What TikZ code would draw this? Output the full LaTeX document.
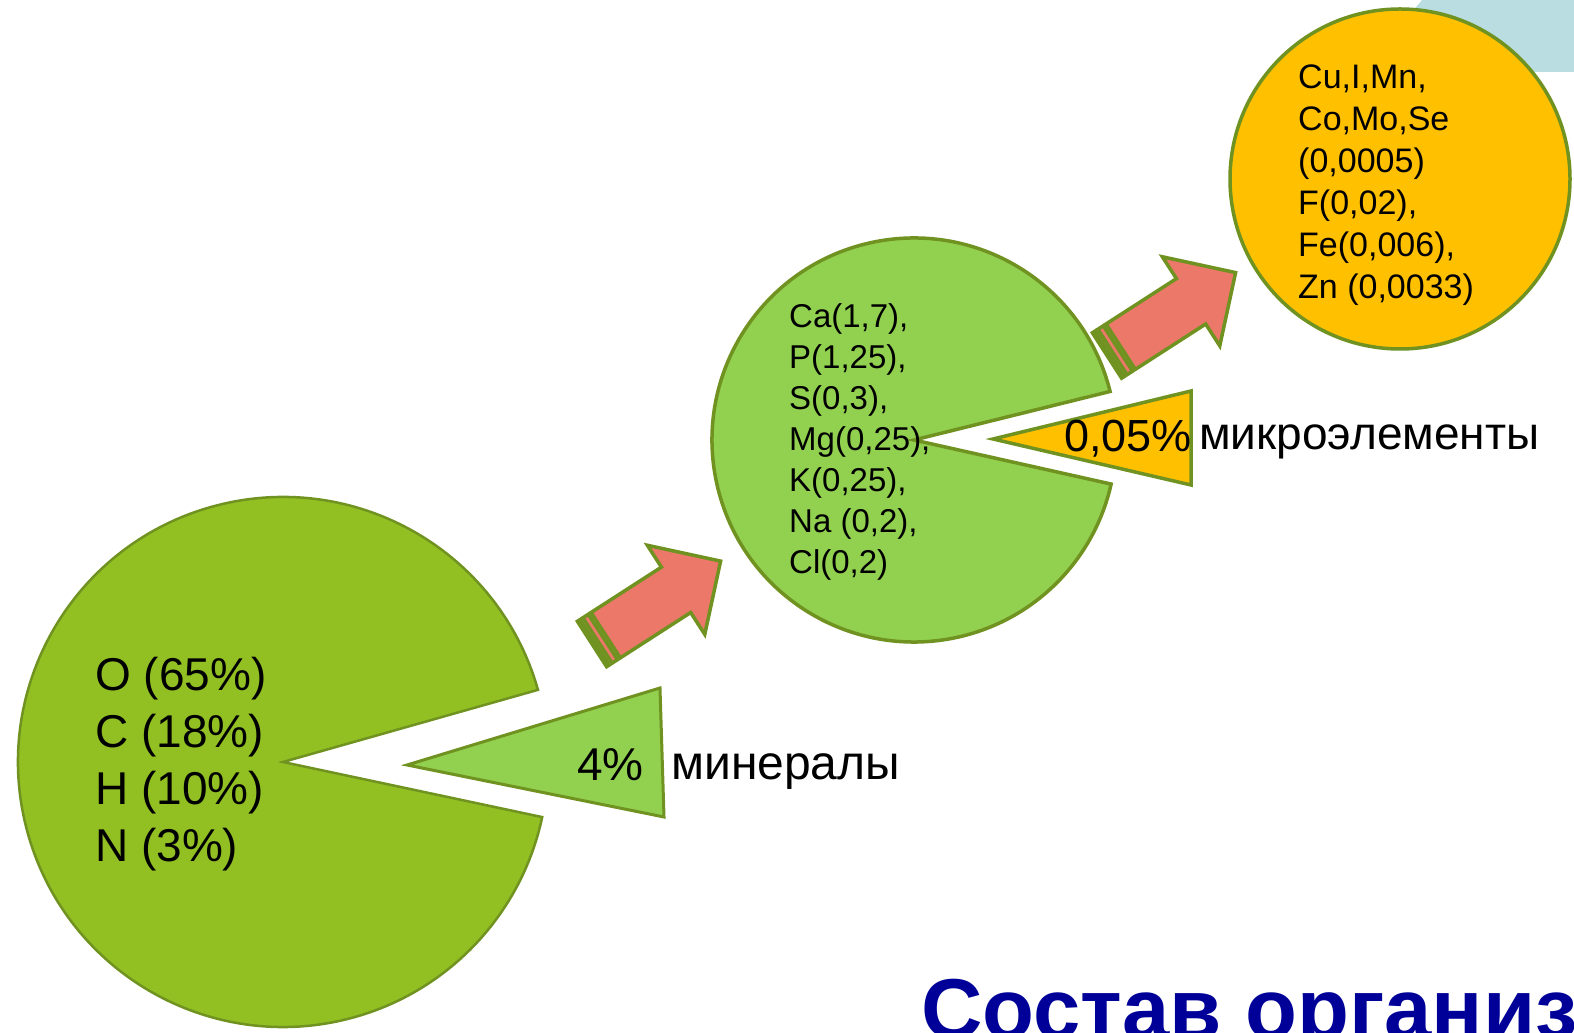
\documentclass[tikz,border=0pt]{standalone}
\usepackage{fontspec}
\setmainfont{Liberation Sans}
\definecolor{bigg}{RGB}{146,192,35}
\definecolor{midg}{RGB}{146,208,80}
\definecolor{orng}{RGB}{255,192,0}
\definecolor{salm}{RGB}{235,120,104}
\definecolor{edgeg}{RGB}{112,146,32}
\definecolor{tealbg}{RGB}{185,221,224}
\definecolor{navyt}{RGB}{0,0,153}
\begin{document}
\begin{tikzpicture}[x=1pt,y=1pt,
  shapeline/.style={draw=edgeg,line join=miter},
  arrowpart/.style={shapeline,fill=salm,line width=3.5pt},
  txt/.style={inner sep=0pt,anchor=base west,align=left,text=black},
  striparrow/.pic={
    \draw[arrowpart] (0,-27) rectangle (3.25,27);
    \draw[arrowpart] (6.5,-27) rectangle (13,27);
    \draw[arrowpart] (16.25,27) -- (100,27) -- (100,53) -- (153,0) -- (100,-53) -- (100,-27) -- (16.25,-27) -- cycle;
  }]
\clip (0,0) rectangle (1574,1033);
\useasboundingbox (0,0) rectangle (1574,1033);
% decorative corner
\fill[tealbg] (1422,1033) -- (1574,1033) -- (1574,961) -- (1362,961) -- cycle;
% big pie
\coordinate (bigc) at (283,271);
\draw[shapeline,fill=bigg,line width=2.5pt] (bigc) -- ++(15.8:265) arc[start angle=15.8,end angle=348,radius=265] -- cycle;
% exploded slice 4%
\coordinate (s1a) at (407,268);
\draw[shapeline,fill=midg,line width=3pt] (s1a) -- (660,345) -- (664,216) -- cycle;
% middle pie
\coordinate (midc) at (914,593);
\draw[shapeline,fill=midg,line width=3.5pt] (midc) -- ++(13.9:202) arc[start angle=13.9,end angle=347.4,radius=202] -- cycle;
% exploded slice 0,05%
\coordinate (s2a) at (993,594);
\draw[shapeline,fill=orng,line width=3.5pt] (s2a) -- (1191,642) -- (1191,548) -- cycle;
% arrows
\pic[rotate=32.8] at (592,389) {striparrow};
\pic[rotate=32.8] at (1107,677.5) {striparrow};
% micro circle
\draw[shapeline,fill=orng,line width=3.5pt] (1400,854) circle[radius=170];
% texts (base anchor = baseline of the last line)
\node[txt,font=\fontsize{46}{57}\selectfont] (bigtxt) at (95,171) {O (65\%)\\C (18\%)\\H (10\%)\\N (3\%)};
\node[txt,font=\fontsize{33}{41}\selectfont] (midtxt) at (789,459) {Ca(1,7),\\P(1,25),\\S(0,3),\\Mg(0,25),\\K(0,25),\\Na (0,2),\\Cl(0,2)};
\node[txt,font=\fontsize{34}{42}\selectfont] (mictxt) at (1298,734) {Cu,I,Mn,\\Co,Mo,Se\\(0,0005)\\F(0,02),\\Fe(0,006),\\Zn (0,0033)};
\node[txt,font=\fontsize{46}{55}\selectfont] (p4) at (577,252) {4\%};
\node[txt,font=\fontsize{48}{55}\selectfont] (minl) at (671,253) {минералы};
\node[txt,font=\fontsize{45}{55}\selectfont] (p005) at (1064,581) {0,05\%};
\node[txt,font=\fontsize{46}{55}\selectfont] (micl) at (1199,583) {микроэлементы};
\node[txt,font=\fontsize{85}{90}\selectfont\bfseries,text=navyt] (title) at (921,-6) {Состав организ};
\end{tikzpicture}
\end{document}
